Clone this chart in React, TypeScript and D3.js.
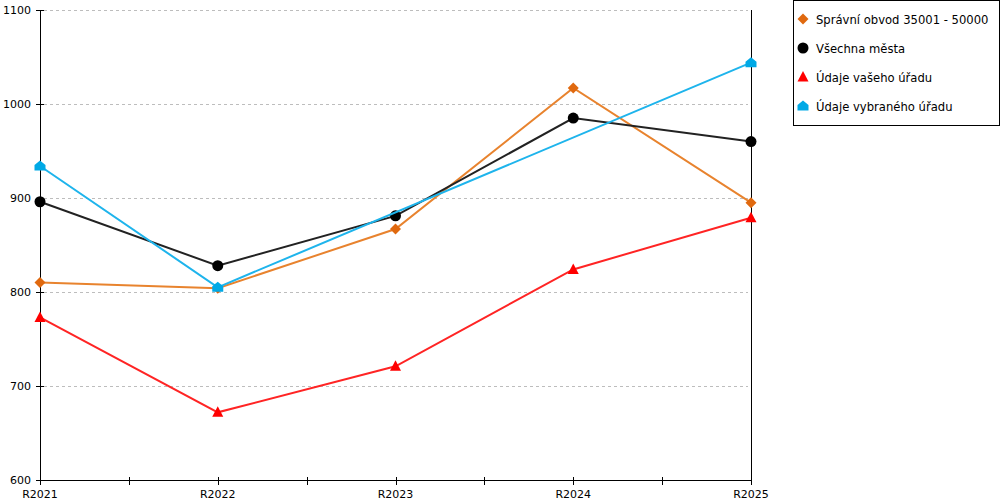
import React from "react";
import * as d3 from "d3";

const categories = ["R2021", "R2022", "R2023", "R2024", "R2025"];
const yTicks = [600, 700, 800, 900, 1000, 1100];

const spravniObvod: (number | null)[] = [810, 804, 867, 1017, 895];
const vsechnaMesta: (number | null)[] = [896, 828, 881, 985, 960];
const udajeVasehoUradu: (number | null)[] = [773, 672, 721, 824, 879];
const udajeVybranehoUradu: (number | null)[] = [934, 805, null, null, 1044];

const seriesNames = [
  "Správní obvod 35001 - 50000",
  "Všechna města",
  "Údaje vašeho úřadu",
  "Údaje vybraného úřadu",
];

type Shape = "diamond" | "circle" | "triangle" | "house";

const series = [
  { name: seriesNames[0], values: spravniObvod, line: "#E8832E", marker: "#E0690F", shape: "diamond" as Shape },
  { name: seriesNames[1], values: vsechnaMesta, line: "#222222", marker: "#000000", shape: "circle" as Shape },
  { name: seriesNames[2], values: udajeVasehoUradu, line: "#FF2424", marker: "#FF0000", shape: "triangle" as Shape },
  { name: seriesNames[3], values: udajeVybranehoUradu, line: "#1EB4EC", marker: "#00A9E6", shape: "house" as Shape },
];

function Marker({ shape, x, y, color }: { shape: Shape; x: number; y: number; color: string }) {
  if (shape === "circle") return <circle cx={x} cy={y} r={5.5} fill={color} />;
  if (shape === "diamond")
    return <path d={`M${x},${y - 5.5}L${x + 5.5},${y}L${x},${y + 5.5}L${x - 5.5},${y}Z`} fill={color} />;
  if (shape === "triangle")
    return <path d={`M${x},${y - 6}L${x + 5.5},${y + 4.5}L${x - 5.5},${y + 4.5}Z`} fill={color} />;
  return (
    <path
      d={`M${x},${y - 5.5}L${x + 5.5},${y - 1}L${x + 5.5},${y + 4.5}L${x - 5.5},${y + 4.5}L${x - 5.5},${y - 1}Z`}
      fill={color}
    />
  );
}

export default function App() {
  const W = 1000;
  const H = 500;
  const left = 40;
  const right = 751;
  const top = 10;
  const bottom = 480;
  const font = "DejaVu Sans, Verdana, sans-serif";

  const x = d3.scalePoint<string>().domain(categories).range([left, right]);
  const y = d3.scaleLinear().domain([600, 1100]).range([bottom, top]);

  const step = x.step();
  const midTicks = categories.slice(0, -1).map((c) => (x(c) as number) + step / 2);

  const lineGen = d3
    .line<{ c: string; v: number }>()
    .x((d) => x(d.c) as number)
    .y((d) => y(d.v));

  return (
    <svg
      width={W}
      height={H}
      style={{ position: "absolute", left: 0, top: 0, background: "#fff" }}
      fontFamily={font}
    >
      {/* gridlines */}
      {yTicks.map((t) => (
        <line
          key={"g" + t}
          x1={left + 4}
          x2={right - 3}
          y1={Math.round(y(t)) + 0.5}
          y2={Math.round(y(t)) + 0.5}
          stroke="#bdbdbd"
          strokeDasharray="3,3"
          strokeWidth={1}
        />
      ))}

      {/* axes */}
      <line x1={left + 0.5} x2={left + 0.5} y1={top} y2={bottom + 5} stroke="#000" />
      <line x1={right + 0.5} x2={right + 0.5} y1={top} y2={bottom + 5} stroke="#000" />
      <line x1={left} x2={right + 1} y1={bottom + 0.5} y2={bottom + 0.5} stroke="#000" />

      {yTicks.map((t) => (
        <g key={"yt" + t}>
          <line x1={left - 4} x2={left + 4} y1={Math.round(y(t)) + 0.5} y2={Math.round(y(t)) + 0.5} stroke="#000" />
          <text x={left - 9} y={y(t) + 4} fontSize={11} textAnchor="end" fill="#000">
            {t}
          </text>
        </g>
      ))}

      {categories.map((c) => (
        <g key={"xt" + c}>
          <line
            x1={Math.round(x(c) as number) + 0.5}
            x2={Math.round(x(c) as number) + 0.5}
            y1={bottom - 3}
            y2={bottom + 5}
            stroke="#000"
          />
          <text x={x(c) as number} y={bottom + 18} fontSize={11} textAnchor="middle" fill="#000">
            {c}
          </text>
        </g>
      ))}
      {midTicks.map((m, i) => (
        <line
          key={"mt" + i}
          x1={Math.round(m) + 0.5}
          x2={Math.round(m) + 0.5}
          y1={bottom - 3}
          y2={bottom + 5}
          stroke="#000"
        />
      ))}

      {/* series */}
      {series.map((s) => {
        const pts = categories
          .map((c, i) => ({ c, v: s.values[i] }))
          .filter((d) => d.v !== null) as { c: string; v: number }[];
        return (
          <g key={s.name}>
            <path d={lineGen(pts) || ""} fill="none" stroke={s.line} strokeWidth={2} />
            {pts.map((p) => (
              <Marker key={p.c} shape={s.shape} x={x(p.c) as number} y={y(p.v)} color={s.marker} />
            ))}
          </g>
        );
      })}

      {/* legend */}
      <rect x={793.5} y={0.5} width={206} height={125} fill="#fff" stroke="#000" />
      {series.map((s, i) => (
        <g key={"lg" + i}>
          <Marker shape={s.shape} x={803} y={19 + i * 29} color={s.marker} />
          <text x={816} y={23.5 + i * 29} fontSize={11.6} fill="#000">
            {s.name}
          </text>
        </g>
      ))}
    </svg>
  );
}
